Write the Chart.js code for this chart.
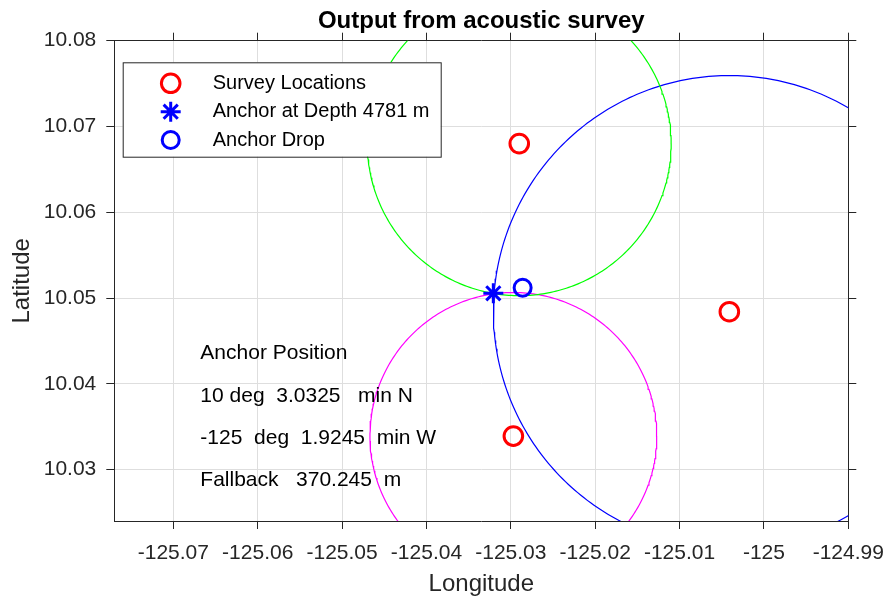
<!DOCTYPE html>
<html>
<head>
<meta charset="utf-8">
<title>Output from acoustic survey</title>
<script src="https://cdn.jsdelivr.net/npm/chart.js@4.4.0/dist/chart.umd.min.js"></script>
<style>
  html, body { margin: 0; padding: 0; background: #fff; }
  canvas { display: block; }
</style>
</head>
<body>
<canvas id="surveyChart" width="888" height="601"></canvas>
<script>
// axis ranges and ticks
const xMin = -125.077, xMax = -124.99;
const yMin = 10.024, yMax = 10.08;
const xTickValues = [-125.07, -125.06, -125.05, -125.04, -125.03, -125.02, -125.01, -125, -124.99];
const xTickLabels = ['-125.07', '-125.06', '-125.05', '-125.04', '-125.03', '-125.02', '-125.01', '-125', '-124.99'];
const yTickValues = [10.03, 10.04, 10.05, 10.06, 10.07, 10.08];
const yTickLabels = ['10.03', '10.04', '10.05', '10.06', '10.07', '10.08'];

// survey points and slant ranges (km)
const surveyLon = [-125.0290, -125.0041, -125.0297];
const surveyLat = [10.0680, 10.0484, 10.0339];
const surveyRangeKm = [1.97, 3.06, 1.86];

const anchorLon = [-125.032075];
const anchorLat = [10.050542];
const dropLon = [-125.0286];
const dropLat = [10.0512];

const legendLabels = ['Survey Locations', 'Anchor at Depth 4781 m', 'Anchor Drop'];

const infoLines = ['Anchor Position', '10 deg  3.0325   min N', '-125  deg  1.9245  min W', 'Fallback   370.245  m'];
const infoLon = -125.0668;
const infoLat = [10.0436, 10.0386, 10.0336, 10.0287];

const rangeColors = ['#00ff00', '#0000ff', '#ff00ff'];
const FONT = '"Liberation Sans", Arial, Helvetica, sans-serif';
const AXIS = '#262626';
const KM_PER_DEG = 111.12;

// range ring around a survey location
function rangeRing(lon, lat, km) {
    const rLat = km / KM_PER_DEG;
    const rLon = km / (KM_PER_DEG * Math.cos(lat * Math.PI / 180));
    const pts = [];
    for (let a = 0; a <= 360; a += 1) {
        const t = a * Math.PI / 180;
        pts.push({ x: lon + rLon * Math.cos(t), y: lat + rLat * Math.sin(t) });
    }
    return pts;
}

const toPoints = (xs, ys) => xs.map((x, i) => ({ x: x, y: ys[i] }));

const datasets = [
    {
        label: legendLabels[0],
        data: toPoints(surveyLon, surveyLat),
        pointStyle: 'circle',
        pointRadius: 9.3,
        pointBorderWidth: 3,
        pointBorderColor: '#ff0000',
        pointBackgroundColor: 'rgba(0,0,0,0)',
        showLine: false
    },
    {
        label: legendLabels[1],
        data: toPoints(anchorLon, anchorLat),
        pointStyle: 'star',
        pointRadius: 10,
        pointBorderWidth: 3,
        pointBorderColor: '#0000ff',
        pointBackgroundColor: 'rgba(0,0,0,0)',
        showLine: false
    },
    {
        label: legendLabels[2],
        data: toPoints(dropLon, dropLat),
        pointStyle: 'circle',
        pointRadius: 8.5,
        pointBorderWidth: 3,
        pointBorderColor: '#0000ff',
        pointBackgroundColor: 'rgba(0,0,0,0)',
        showLine: false
    }
];

surveyLon.forEach((lon, i) => {
    datasets.push({
        label: 'range ' + (i + 1),
        data: rangeRing(lon, surveyLat[i], surveyRangeKm[i]),
        showLine: true,
        borderColor: rangeColors[i],
        borderWidth: 1.2,
        pointRadius: 0,
        fill: false
    });
});

// text block and legend box drawn on the canvas
const overlay = {
    id: 'overlay',
    afterDatasetsDraw(chart) {
        const ctx = chart.ctx;
        const xs = chart.scales.x, ys = chart.scales.y;
        ctx.save();
        ctx.font = '21px ' + FONT;
        ctx.fillStyle = '#000';
        ctx.textAlign = 'left';
        ctx.textBaseline = 'middle';
        infoLines.forEach((line, i) => {
            ctx.fillText(line, xs.getPixelForValue(infoLon), ys.getPixelForValue(infoLat[i]));
        });
        ctx.restore();
    },
    afterDraw(chart) {
        const ctx = chart.ctx;
        const area = chart.chartArea;
        const left = area.left + 8.4, top = area.top + 21.6;
        const w = 318, h = 94.4;
        ctx.save();
        ctx.fillStyle = '#fff';
        ctx.fillRect(left, top, w, h);
        ctx.strokeStyle = AXIS;
        ctx.lineWidth = 1;
        ctx.strokeRect(left + 0.5, top + 0.5, w, h);
        const rows = [21, 49.4, 77.7];
        ctx.font = '20px ' + FONT;
        ctx.textBaseline = 'middle';
        ctx.textAlign = 'left';
        for (let i = 0; i < 3; i++) {
            const ds = chart.data.datasets[i];
            const y = top + rows[i];
            ctx.strokeStyle = ds.pointBorderColor;
            ctx.fillStyle = 'rgba(0,0,0,0)';
            ctx.lineWidth = ds.pointBorderWidth;
            Chart.helpers.drawPoint(ctx, {
                pointStyle: ds.pointStyle,
                rotation: 0,
                radius: ds.pointRadius,
                borderWidth: ds.pointBorderWidth
            }, left + 48, y);
            ctx.fillStyle = '#000';
            ctx.fillText(ds.label, left + 90, y);
        }
        ctx.restore();
    }
};

const tickFont = { family: FONT, size: 21 };
const titleFont = { family: FONT, size: 24 };

// fixed axis sizes, no extra padding for overflowing tick labels
function fixSize(prop, size) {
    return s => {
        s[prop] = size;
        s.paddingLeft = 0;
        s.paddingRight = 0;
        s.paddingTop = 0;
        s.paddingBottom = 0;
    };
}

new Chart(document.getElementById('surveyChart'), {
    type: 'scatter',
    data: { datasets: datasets },
    plugins: [overlay],
    options: {
        responsive: false,
        animation: false,
        events: [],
        layout: { padding: 0 },
        plugins: {
            legend: { display: false },
            tooltip: { enabled: false },
            title: {
                display: true,
                text: 'Output from acoustic survey',
                fullSize: false,
                color: '#000',
                font: { family: FONT, size: 24, weight: 'bold' },
                padding: { top: 6.6, bottom: 0 }
            }
        },
        scales: {
            x: {
                type: 'linear',
                position: 'bottom',
                min: xMin,
                max: xMax,
                afterBuildTicks: s => { s.ticks = xTickValues.map(v => ({ value: v })); },
                afterFit: fixSize('height', 80),
                ticks: {
                    font: tickFont,
                    color: AXIS,
                    padding: 12,
                    maxRotation: 0,
                    autoSkip: false,
                    callback: (v, i) => xTickLabels[i]
                },
                grid: { color: '#dedede', lineWidth: 1, tickColor: AXIS, tickLength: 8 },
                border: { display: true, color: AXIS, width: 1 },
                title: { display: true, text: 'Longitude', color: AXIS, font: titleFont, padding: { top: 0, bottom: 2 } }
            },
            x2: {
                type: 'linear',
                position: 'top',
                min: xMin,
                max: xMax,
                afterBuildTicks: s => { s.ticks = xTickValues.map(v => ({ value: v })); },
                afterFit: fixSize('height', 5.3),
                ticks: { display: false },
                grid: { drawOnChartArea: false, tickColor: AXIS, tickLength: 8 },
                border: { display: true, color: AXIS, width: 1 }
            },
            y: {
                type: 'linear',
                position: 'left',
                min: yMin,
                max: yMax,
                afterBuildTicks: s => { s.ticks = yTickValues.map(v => ({ value: v })); },
                afterFit: fixSize('width', 114.3),
                ticks: {
                    font: tickFont,
                    color: AXIS,
                    padding: 10,
                    autoSkip: false,
                    callback: (v, i) => yTickLabels[i]
                },
                grid: { color: '#dedede', lineWidth: 1, tickColor: AXIS, tickLength: 8 },
                border: { display: true, color: AXIS, width: 1 },
                title: { display: true, text: 'Latitude', color: AXIS, font: titleFont, padding: { top: 7.6, bottom: 0 } }
            },
            y2: {
                type: 'linear',
                position: 'right',
                min: yMin,
                max: yMax,
                afterBuildTicks: s => { s.ticks = yTickValues.map(v => ({ value: v })); },
                afterFit: fixSize('width', 39.7),
                ticks: { display: false },
                grid: { drawOnChartArea: false, tickColor: AXIS, tickLength: 8 },
                border: { display: true, color: AXIS, width: 1 }
            }
        }
    }
});
</script>
</body>
</html>
